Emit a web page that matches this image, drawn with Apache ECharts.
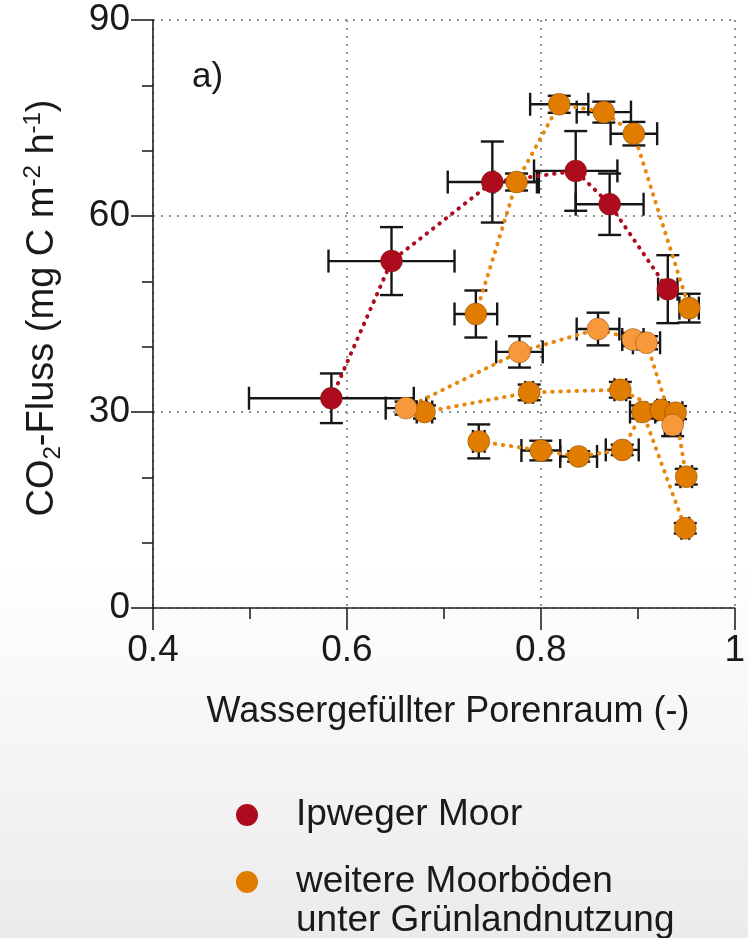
<!DOCTYPE html>
<html>
<head>
<meta charset="utf-8">
<script src="https://cdn.jsdelivr.net/npm/echarts@6/dist/echarts.min.js"></script>
<style>
  html, body { margin: 0; padding: 0; }
  body {
    width: 748px; height: 938px;
    background: linear-gradient(to bottom, #ffffff 0%, #ffffff 60%, #ebebeb 100%);
  }
  #chart { width: 748px; height: 938px; }
</style>
</head>
<body>
<div id="chart"></div>
<script>
// Water-filled pore space (WFPS, -) vs. CO2 flux (mg C m-2 h-1), means with error bars

// Ipweger Moor
const ipwegWfps    = [0.584, 0.646, 0.750, 0.836, 0.871, 0.931];
const ipwegFlux    = [32.1, 53.1, 65.2, 66.9, 61.8, 48.8];
const ipwegWfpsErr = [0.085, 0.065, 0.046, 0.043, 0.035, 0.010];
const ipwegFluxErr = [3.8, 5.2, 6.2, 6.1, 4.7, 5.2];

// further peat soils under grassland, site A
const siteAWfps    = [0.733, 0.775, 0.819, 0.865, 0.896, 0.953];
const siteAFlux    = [45.0, 65.2, 77.1, 75.9, 72.6, 45.9];
const siteAWfpsErr = [0.022, 0.023, 0.030, 0.028, 0.024, 0.010];
const siteAFluxErr = [3.6, 1.3, 1.3, 1.6, 1.8, 2.2];

// site B
const siteBWfps    = [0.661, 0.778, 0.859, 0.895, 0.909, 0.936];
const siteBFlux    = [30.6, 39.2, 42.7, 41.1, 40.6, 28.0];
const siteBWfpsErr = [0.021, 0.024, 0.022, 0.011, 0.014, 0.008];
const siteBFluxErr = [1.0, 2.4, 2.5, 1.0, 1.0, 1.7];

// site C
const siteCWfps    = [0.680, 0.788, 0.882, 0.924, 0.939, 0.950];
const siteCFlux    = [30.0, 33.0, 33.4, 30.3, 29.9, 20.1];
const siteCWfpsErr = [0.008, 0.004, 0.006, 0.004, 0.007, 0.006];
const siteCFluxErr = [1.0, 1.2, 1.2, 0.8, 1.0, 1.2];

// site D
const siteDWfps    = [0.736, 0.800, 0.839, 0.884, 0.905, 0.949];
const siteDFlux    = [25.5, 24.1, 23.2, 24.2, 30.0, 12.2];
const siteDWfpsErr = [0.006, 0.020, 0.019, 0.017, 0.013, 0.004];
const siteDFluxErr = [2.6, 1.5, 0.8, 0.8, 1.0, 0.8];

const xTicks = [0.4, 0.6, 0.8, 1.0];
const yTicks = [0, 30, 60, 90];

const RED = '#ae0b1f';
const ORANGE = '#e07c00';
const ORANGE_LIGHT = '#f7993b';
const ORANGE_LINE = '#e8870e';
const FONT = 'Liberation Sans, Arial, sans-serif';
const INK = '#1a1a1a';

function points(xs, ys) { return xs.map((x, i) => [x, ys[i]]); }
function errRows(xs, ys, exs, eys) { return xs.map((x, i) => [x, ys[i], exs[i], eys[i]]); }

const CAP = 11.5;
function renderErr(params, api) {
  const x = api.value(0), y = api.value(1), ex = api.value(2), ey = api.value(3);
  const l = api.coord([x - ex, y]), r = api.coord([x + ex, y]);
  const t = api.coord([x, y + ey]), b = api.coord([x, y - ey]);
  const st = { stroke: '#161616', lineWidth: 2.4 };
  const seg = (x1, y1, x2, y2) => ({ type: 'line', shape: { x1, y1, x2, y2 }, style: st });
  return {
    type: 'group',
    children: [
      seg(l[0], l[1], r[0], r[1]),
      seg(l[0], l[1] - CAP, l[0], l[1] + CAP),
      seg(r[0], r[1] - CAP, r[0], r[1] + CAP),
      seg(t[0], t[1], b[0], b[1]),
      seg(t[0] - CAP, t[1], t[0] + CAP, t[1]),
      seg(b[0] - CAP, b[1], b[0] + CAP, b[1])
    ]
  };
}

function errSeries(rows) {
  return {
    type: 'custom', renderItem: renderErr, data: rows, z: 2,
    encode: { x: 0, y: 1 }, silent: true, clip: false
  };
}

function lineSeries(name, data, lineColor, markerColor) {
  return {
    name, type: 'line', data, z: 3,
    symbol: 'circle', symbolSize: 22,
    itemStyle: { color: markerColor, borderColor: 'rgba(90,40,0,0.45)', borderWidth: 0.8 },
    lineStyle: { color: lineColor, width: 4, type: [0.5, 7.6], cap: 'round' },
    emphasis: { disabled: true }, animation: false
  };
}

const gridLine = { show: true, lineStyle: { color: '#8a9396', width: 2, type: [2, 6] } };
const tickLabel = { color: INK, fontSize: 37, fontFamily: FONT };

const chart = echarts.init(document.getElementById('chart'), null, { renderer: 'canvas' });
chart.setOption({
  animation: false,
  backgroundColor: 'transparent',
  grid: { left: 153, right: 10, top: 20, bottom: 330, containLabel: false },
  xAxis: {
    type: 'value', min: xTicks[0], max: xTicks[xTicks.length - 1], interval: 0.2,
    axisLine: { show: true, onZero: false, lineStyle: { color: '#222', width: 1.6 } },
    axisTick: { show: true, inside: false, length: 22, lineStyle: { color: '#222', width: 1.6 } },
    minorTick: { show: true, splitNumber: 2, length: 11, lineStyle: { color: '#222', width: 1.6 } },
    axisLabel: Object.assign({ margin: 24, formatter: v => (v === 1 ? '1' : v.toFixed(1)) }, tickLabel),
    splitLine: gridLine
  },
  yAxis: {
    type: 'value', min: yTicks[0], max: yTicks[yTicks.length - 1], interval: 30,
    axisLine: { show: true, onZero: false, lineStyle: { color: '#222', width: 1.6 } },
    axisTick: { show: true, inside: false, length: 22, lineStyle: { color: '#222', width: 1.6 } },
    minorTick: { show: true, splitNumber: 3, length: 11, lineStyle: { color: '#222', width: 1.6 } },
    axisLabel: Object.assign({ margin: 23 }, tickLabel),
    splitLine: gridLine
  },
  graphic: [
    {
      type: 'text', x: 192, y: 77,
      style: { text: 'a)', fontSize: 35, fill: INK, fontFamily: FONT, verticalAlign: 'middle' }
    },
    {
      type: 'text', x: 43, y: 308, rotation: Math.PI / 2,
      style: {
        text: '{n|CO}{sub|2}{n|-Fluss (mg C m}{sup|-2}{n| h}{sup|-1}{n|)}',
        align: 'center', verticalAlign: 'middle',
        fill: INK, fontFamily: FONT,
        rich: {
          n: { fontSize: 38, lineHeight: 44, fill: INK, fontFamily: FONT },
          sub: { fontSize: 24, lineHeight: 17, verticalAlign: 'bottom', fill: INK, fontFamily: FONT },
          sup: { fontSize: 24, lineHeight: 17, verticalAlign: 'top', fill: INK, fontFamily: FONT }
        }
      }
    },
    {
      type: 'text', x: 448, y: 712,
      style: { text: 'Wassergefüllter Porenraum (-)', fontSize: 36, fill: INK, align: 'center', verticalAlign: 'middle', fontFamily: FONT }
    },
    { type: 'circle', shape: { cx: 247, cy: 815, r: 11 }, style: { fill: RED } },
    {
      type: 'text', x: 296, y: 815,
      style: { text: 'Ipweger Moor', fontSize: 37, fill: INK, verticalAlign: 'middle', fontFamily: FONT }
    },
    { type: 'circle', shape: { cx: 247, cy: 882, r: 11 }, style: { fill: ORANGE } },
    {
      type: 'text', x: 296, y: 862,
      style: { text: 'weitere Moorböden\nunter Grünlandnutzung', fontSize: 37, lineHeight: 39, fill: INK, verticalAlign: 'top', fontFamily: FONT }
    }
  ],
  series: [
    errSeries(errRows(ipwegWfps, ipwegFlux, ipwegWfpsErr, ipwegFluxErr)),
    errSeries(errRows(siteAWfps, siteAFlux, siteAWfpsErr, siteAFluxErr)),
    errSeries(errRows(siteBWfps, siteBFlux, siteBWfpsErr, siteBFluxErr)),
    errSeries(errRows(siteCWfps, siteCFlux, siteCWfpsErr, siteCFluxErr)),
    errSeries(errRows(siteDWfps, siteDFlux, siteDWfpsErr, siteDFluxErr)),
    lineSeries('Ipweger Moor', points(ipwegWfps, ipwegFlux), RED, RED),
    lineSeries('Standort A', points(siteAWfps, siteAFlux), ORANGE_LINE, ORANGE),
    lineSeries('Standort D', points(siteDWfps, siteDFlux), ORANGE_LINE, ORANGE),
    lineSeries('Standort C', points(siteCWfps, siteCFlux), ORANGE_LINE, ORANGE),
    lineSeries('Standort B', points(siteBWfps, siteBFlux), ORANGE_LINE, ORANGE_LIGHT)
  ]
});
</script>
</body>
</html>
